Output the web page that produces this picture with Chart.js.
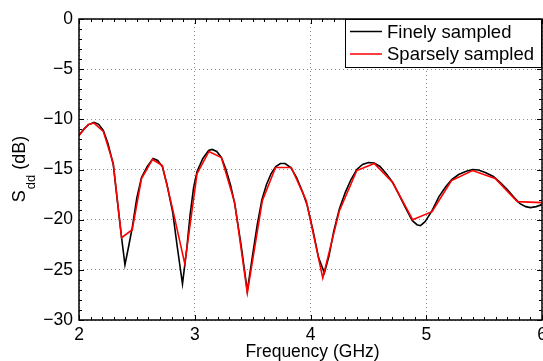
<!DOCTYPE html>
<html lang="en">
<head>
  <meta charset="UTF-8" />
  <title>Sdd vs frequency</title>
  <script src="https://cdn.jsdelivr.net/npm/chart.js"></script>
  <style>
    body {
      margin: 0;
      padding: 0;
      background-color: #fff;
    }
    #wrap {
      width: 543px;
      height: 361px;
    }
  </style>
</head>
<body>
  <div id="wrap"><canvas id="sddChart" width="543" height="361"></canvas></div>

  <script>
    // finely sampled response (GHz, dB)
    const fineFreq = [2.0, 2.04, 2.08, 2.13, 2.17, 2.21, 2.25, 2.296, 2.33, 2.368, 2.397, 2.43, 2.46, 2.5, 2.54,
      2.59, 2.64, 2.68, 2.72, 2.76, 2.81, 2.85, 2.894, 2.93, 2.96, 2.99, 3.02, 3.07, 3.12, 3.15, 3.19, 3.23,
      3.27, 3.31, 3.345, 3.4, 3.454, 3.5, 3.54, 3.58, 3.62, 3.66, 3.7, 3.74, 3.78, 3.83, 3.88, 3.93, 3.97,
      4.02, 4.07, 4.12, 4.16, 4.2, 4.25, 4.3, 4.35, 4.4, 4.45, 4.5, 4.55, 4.6, 4.66, 4.71, 4.76, 4.82, 4.88,
      4.92, 4.95, 4.99, 5.05, 5.11, 5.17, 5.22, 5.28, 5.34, 5.4, 5.45, 5.51, 5.58, 5.64, 5.7, 5.76, 5.81,
      5.86, 5.9, 5.95, 6.0];
    const fineSdd = [-11.6, -11.0, -10.55, -10.3, -10.5, -11.1, -12.4, -14.5, -18.0, -21.8, -24.5, -22.6, -20.8, -17.8, -15.8,
      -14.7, -13.9, -14.1, -14.7, -16.5, -19.3, -22.8, -26.4, -23.0, -19.5, -16.8, -15.2, -13.9, -13.1, -13.0, -13.2, -13.8,
      -15.0, -16.6, -18.4, -22.5, -27.1, -23.5, -20.5, -18.0, -16.5, -15.4, -14.7, -14.4, -14.4, -14.8, -15.8, -17.2, -18.5,
      -21.0, -23.8, -25.3, -23.6, -21.2, -18.9, -17.3, -16.0, -15.0, -14.5, -14.3, -14.35, -14.7, -15.5, -16.3, -17.4, -18.8, -20.1,
      -20.5, -20.6, -20.2, -19.1, -17.7, -16.7, -16.0, -15.5, -15.2, -15.0, -15.05, -15.3, -15.7, -16.3, -17.0, -17.8, -18.4,
      -18.7, -18.8, -18.7, -18.5];

    // sparsely sampled response (GHz, dB)
    const sparseFreq = [2.0, 2.08, 2.13, 2.21, 2.296, 2.368, 2.46, 2.54, 2.635, 2.72, 2.81, 2.914, 3.02, 3.123,
      3.23, 3.345, 3.454, 3.584, 3.698, 3.834, 3.963, 4.106, 4.25, 4.4, 4.55, 4.71, 4.882, 5.05, 5.218, 5.4,
      5.595, 5.787, 6.0];
    const sparseSdd = [-11.6, -10.5, -10.37, -11.2, -14.4, -21.8, -21.0, -15.9, -14.0, -14.6, -19.0, -24.4, -15.4, -13.2,
      -13.8, -18.3, -27.3, -18.1, -14.8, -14.8, -18.1, -25.8, -19.1, -15.1, -14.4, -16.3, -20.0, -19.2, -16.1, -15.1,
      -15.9, -18.2, -18.3];

    const xTicks = [2, 3, 4, 5, 6];
    const yTicks = [-30, -25, -20, -15, -10, -5, 0];
    const seriesNames = ['Finely sampled', 'Sparsely sampled'];

    const FONT = '"Liberation Sans", Arial, sans-serif';

    function toPoints(xs, ys) {
      return xs.map((x, i) => ({ x: x, y: ys[i] }));
    }

    function minus(v) {
      return v < 0 ? '\u2212' + Math.abs(v) : String(v);
    }

    // box, inward ticks, axis titles and legend (matlab look)
    const frame = {
      id: 'frame',
      afterDraw(chart) {
        const ctx = chart.ctx;
        const a = chart.chartArea;
        const xs = chart.scales.x;
        const ys = chart.scales.y;
        ctx.save();

        ctx.strokeStyle = '#000';
        ctx.lineWidth = 1;
        ctx.beginPath();
        for (let f = 20; f <= 60; f++) {
          const px = Math.round(xs.getPixelForValue(f / 10)) + 0.5;
          const len = f % 10 === 0 ? 5 : 3;
          ctx.moveTo(px, a.bottom); ctx.lineTo(px, a.bottom - len);
          ctx.moveTo(px, a.top); ctx.lineTo(px, a.top + len);
        }
        for (let d = -30; d <= 0; d++) {
          const py = Math.round(ys.getPixelForValue(d)) + 0.5;
          const len = d % 5 === 0 ? 5 : 3;
          ctx.moveTo(a.left, py); ctx.lineTo(a.left + len, py);
          ctx.moveTo(a.right, py); ctx.lineTo(a.right - len, py);
        }
        ctx.stroke();

        ctx.lineWidth = 1.5;
        ctx.strokeRect(a.left, a.top, a.right - a.left, a.bottom - a.top);

        // x title
        ctx.fillStyle = '#000';
        ctx.font = '17.5px ' + FONT;
        ctx.textAlign = 'center';
        ctx.textBaseline = 'alphabetic';
        ctx.fillText('Frequency (GHz)', (a.left + a.right) / 2 + 2, 357);

        // y title with subscript
        ctx.save();
        ctx.translate(25, (a.top + a.bottom) / 2);
        ctx.rotate(-Math.PI / 2);
        ctx.textAlign = 'left';
        ctx.font = '18px ' + FONT;
        const wS = ctx.measureText('S').width;
        ctx.font = '13px ' + FONT;
        const wSub = ctx.measureText('dd').width;
        ctx.font = '18px ' + FONT;
        const wRest = ctx.measureText(' (dB)').width;
        let x0 = -(wS + wSub + wRest) / 2;
        ctx.fillText('S', x0, 0);
        ctx.font = '13px ' + FONT;
        ctx.fillText('dd', x0 + wS + 1, 10);
        ctx.font = '18px ' + FONT;
        ctx.fillText(' (dB)', x0 + wS + wSub + 1, 0);
        ctx.restore();

        // legend
        const lx = 345, ly = a.top, lw = a.right - lx, lh = 49;
        ctx.fillStyle = '#fff';
        ctx.fillRect(lx, ly, lw, lh);
        ctx.strokeStyle = '#000';
        ctx.lineWidth = 1;
        ctx.strokeRect(lx + 0.5, ly + 0.5, lw - 1, lh - 1);
        const ds = chart.data.datasets;
        ds.forEach((d, i) => {
          const yy = ly + 12.5 + i * 22.5;
          ctx.strokeStyle = d.borderColor;
          ctx.lineWidth = 1.5;
          ctx.beginPath();
          ctx.moveTo(lx + 5, yy);
          ctx.lineTo(lx + 37, yy);
          ctx.stroke();
          ctx.fillStyle = '#000';
          ctx.font = '18.5px ' + FONT;
          ctx.textAlign = 'left';
          ctx.textBaseline = 'middle';
          ctx.fillText(d.label, lx + 42, yy + 1);
        });

        ctx.restore();
      }
    };

    const ctxSdd = document.getElementById('sddChart').getContext('2d');
    const sddChart = new Chart(ctxSdd, {
      type: 'line',
      data: {
        datasets: [
          {
            label: seriesNames[0],
            data: toPoints(fineFreq, fineSdd),
            borderColor: '#000000',
            borderWidth: 1.6,
            pointRadius: 0,
            tension: 0,
            fill: false,
            order: 2
          },
          {
            label: seriesNames[1],
            data: toPoints(sparseFreq, sparseSdd),
            borderColor: '#ff0000',
            borderWidth: 1.6,
            pointRadius: 0,
            tension: 0,
            fill: false,
            order: 1
          }
        ]
      },
      options: {
        responsive: false,
        animation: false,
        layout: {
          padding: { top: 19, right: 1, left: 0, bottom: 0 }
        },
        scales: {
          x: {
            type: 'linear',
            min: 2,
            max: 6,
            afterFit: s => { s.height = 41; s.paddingLeft = 0; s.paddingRight = 0; },
            afterBuildTicks: s => { s.ticks = xTicks.map(v => ({ value: v })); },
            grid: {
              color: '#8c8c8c',
              lineWidth: 1,
              drawTicks: false
            },
            border: { display: false, dash: [1, 3] },
            ticks: {
              color: '#000',
              padding: 5,
              font: { size: 17.5, family: FONT },
              maxRotation: 0,
              callback: v => minus(v)
            }
          },
          y: {
            type: 'linear',
            min: -30,
            max: 0,
            afterFit: s => { s.width = 79; s.paddingTop = 0; s.paddingBottom = 0; },
            afterBuildTicks: s => { s.ticks = yTicks.map(v => ({ value: v })); },
            grid: {
              color: '#8c8c8c',
              lineWidth: 1,
              drawTicks: false
            },
            border: { display: false, dash: [1, 3] },
            ticks: {
              color: '#000',
              padding: 6,
              font: { size: 17.5, family: FONT },
              callback: v => minus(v)
            }
          }
        },
        plugins: {
          legend: { display: false },
          tooltip: { enabled: false }
        }
      },
      plugins: [frame]
    });
  </script>
</body>
</html>
